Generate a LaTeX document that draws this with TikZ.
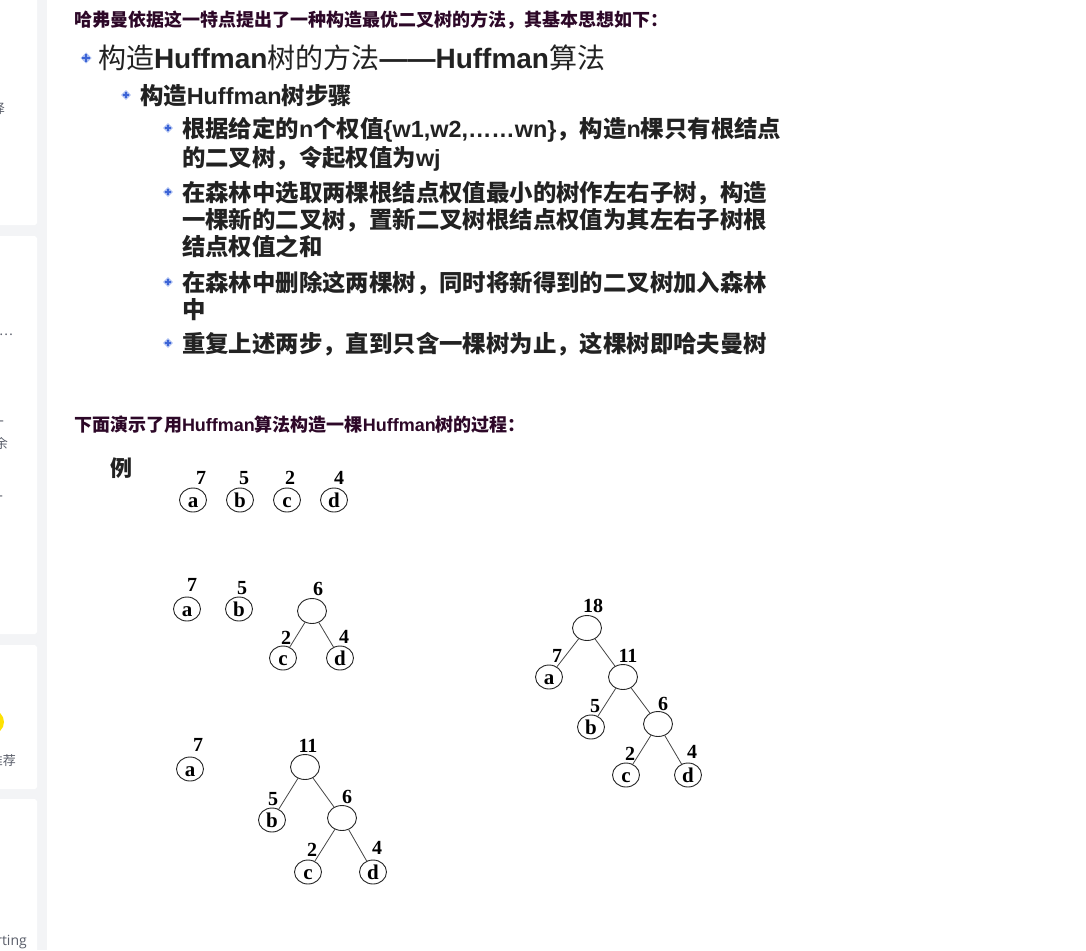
\documentclass[tikz,border=0pt]{standalone}
\usepackage{fontspec}
\usetikzlibrary{shapes.geometric}
\setmainfont{Liberation Serif}
\newfontfamily\cjk{Noto Sans CJK SC}
\newfontfamily\arialf{Liberation Sans}
\newfontfamily\uisans{Open Sans}
\newcommand\lat[1]{{\arialf\bfseries #1}}
\definecolor{headc}{RGB}{45,8,40}
\definecolor{bodyc}{RGB}{34,34,34}
\definecolor{sidegray}{RGB}{243,244,246}
\definecolor{sidetext}{RGB}{90,94,106}
\definecolor{bulfill}{RGB}{168,188,240}
\definecolor{bulline}{RGB}{60,100,214}
\definecolor{edgec}{RGB}{70,70,70}
\newcommand\drawbul[3]{%
  \fill[bulfill] (#1-#3,#2) -- (#1,#2-#3) -- (#1+#3,#2) -- (#1,#2+#3) -- cycle;
  \draw[bulline,line width=1.2pt] (#1-0.7*#3,#2) -- (#1+0.7*#3,#2) (#1,#2-0.7*#3) -- (#1,#2+0.7*#3);}
\begin{document}
\begin{tikzpicture}[x=1pt,y=-1pt,
  txt/.style={anchor=base west,inner sep=0pt,outer sep=0pt},
  head/.style={txt,text=headc,font=\cjk\bfseries\fontsize{18}{20}\selectfont},
  ttl/.style={txt,text=bodyc,font=\cjk\fontsize{28}{30}\selectfont},
  lvl/.style={txt,text=bodyc,font=\cjk\bfseries\fontsize{23.4}{26}\selectfont},
  side/.style={anchor=base east,inner sep=0pt,text=sidetext,font=\cjk\fontsize{13}{15}\selectfont},
  leaf/.style={ellipse,draw=black!85,line width=0.9pt,minimum width=27pt,minimum height=24pt,inner sep=0pt},
  inner/.style={ellipse,draw=black!85,line width=0.9pt,minimum width=29pt,minimum height=25pt,inner sep=0pt},
  ltr/.style={anchor=base,inner sep=0pt,font=\bfseries\fontsize{21}{21}\selectfont},
  wt/.style={inner sep=0pt,font=\bfseries\fontsize{20}{20}\selectfont},
  edge/.style={draw=edgec,line width=0.8pt}
]
\useasboundingbox (0,0) rectangle (1086,950);
\fill[white] (0,0) rectangle (1086,950);
% sidebar
\fill[sidegray] (0,0) rectangle (47,950);
\fill[white] (0,0) -- (37,0) -- (37,223) -- (35,225) -- (0,225) -- cycle;
\fill[white] (0,236) -- (35,236) -- (37,238) -- (37,632) -- (35,634) -- (0,634) -- cycle;
\fill[white] (0,645) -- (35,645) -- (37,647) -- (37,787) -- (35,789) -- (0,789) -- cycle;
\fill[white] (0,799) -- (35,799) -- (37,801) -- (37,950) -- (0,950) -- cycle;
\begin{scope}
\clip (0,0) rectangle (37,950);
\node[side] (s1) at (5,113) {选择};
\node[side] (s2) at (13,335) {数据…};
\node[side] (s3) at (4,426) {一};
\node[side] (s4) at (8,448) {剩余};
\node[side] (s5) at (3,501) {一};
\fill[yellow!85!orange] (-8,722) circle (12);
\node[side] (s6) at (16,765) {推荐};
\node[side,font=\uisans\fontsize{14}{16}\selectfont] (s7) at (27,945) {sorting};
\end{scope}
% headings and text
\node[head] (h1) at (74,26.8) {哈弗曼依据这一特点提出了一种构造最优二叉树的方法，其基本思想如下：};
\drawbul{86}{58}{5.5}
\node[ttl] (t1) at (98,68.6) {构造\lat{Huffman}树的方法\lat{——Huffman}算法};
\drawbul{126}{95}{4.8}
\node[lvl] (t2) at (140,104) {构造\lat{Huffman}树步骤};
\foreach \yy in {128,192,282,343} { \drawbul{168}{\yy}{4.8} }
\node[lvl] (l1) at (182,137) {根据给定的\lat{n}个权值\lat{\{w1,w2,……wn\}}，构造\lat{n}棵只有根结点};
\node[lvl] (l2) at (182,166) {的二叉树，令起权值为\lat{wj}};
\node[lvl] (l3) at (182,201) {在森林中选取两棵根结点权值最小的树作左右子树，构造};
\node[lvl] (l4) at (182,228) {一棵新的二叉树，置新二叉树根结点权值为其左右子树根};
\node[lvl] (l5) at (182,255) {结点权值之和};
\node[lvl] (l6) at (182,291) {在森林中删除这两棵树，同时将新得到的二叉树加入森林};
\node[lvl] (l7) at (182,318) {中};
\node[lvl] (l8) at (182,352) {重复上述两步，直到只含一棵树为止，这棵树即哈夫曼树};
\node[head] (h2) at (74,431.8) {下面演示了用\lat{Huffman}算法构造一棵\lat{Huffman}树的过程：};
\node[txt,text=bodyc,font=\cjk\bfseries\fontsize{22}{24}\selectfont] (ex) at (110,476.4) {例};
% row 1
\node[leaf] (a1) at (193,500) {};
\node[leaf] (b1) at (240,500) {};
\node[leaf] (c1) at (287,500) {};
\node[leaf] (d1) at (334,500) {};
\node[ltr] (la1) at (193,507) {a};
\node[ltr] (lb1) at (240,507) {b};
\node[ltr] (lc1) at (287,507) {c};
\node[ltr] (ld1) at (334,507) {d};
\node[wt] (wa1) at (201,478) {7};
\node[wt] (wb1) at (244,478) {5};
\node[wt] (wc1) at (290,478) {2};
\node[wt] (wd1) at (339,478) {4};
% row 2
\node[leaf] (a2) at (187,609) {};
\node[leaf] (b2) at (239,609) {};
\node[inner] (r2) at (312,611) {};
\node[leaf] (c2) at (283,658) {};
\node[leaf] (d2) at (340,658) {};
\node[ltr] (la2) at (187,616) {a};
\node[ltr] (lb2) at (239,616) {b};
\node[ltr] (lc2) at (283,665) {c};
\node[ltr] (ld2) at (340,665) {d};
\node[wt] (wa2) at (192,585) {7};
\node[wt] (wb2) at (242,588) {5};
\node[wt] (wr2) at (318,589) {6};
\node[wt] (wc2) at (286,638) {2};
\node[wt] (wd2) at (344,637) {4};
\draw[edge] (r2) -- (c2);
\draw[edge] (r2) -- (d2);
% row 3
\node[leaf] (a3) at (190,769) {};
\node[inner] (r3) at (305,767) {};
\node[leaf] (b3) at (272,820) {};
\node[inner] (s3n) at (342,818) {};
\node[leaf] (c3) at (308,872) {};
\node[leaf] (d3) at (373,872) {};
\node[ltr] (la3) at (190,776) {a};
\node[ltr] (lb3) at (272,827) {b};
\node[ltr] (lc3) at (308,879) {c};
\node[ltr] (ld3) at (373,879) {d};
\node[wt] (wa3) at (198,745) {7};
\node[wt] (wr3) at (308,746) {11};
\node[wt] (wb3) at (273,799) {5};
\node[wt] (ws3) at (347,797) {6};
\node[wt] (wc3) at (312,850) {2};
\node[wt] (wd3) at (377,848) {4};
\draw[edge] (r3) -- (b3);
\draw[edge] (r3) -- (s3n);
\draw[edge] (s3n) -- (c3);
\draw[edge] (s3n) -- (d3);
% final tree
\node[inner] (r4) at (587,628) {};
\node[leaf] (a4) at (549,677) {};
\node[inner] (e4) at (623,677) {};
\node[leaf] (b4) at (591,727) {};
\node[inner] (s4n) at (658,724) {};
\node[leaf] (c4) at (626,775) {};
\node[leaf] (d4) at (688,775) {};
\node[ltr] (la4) at (549,684) {a};
\node[ltr] (lb4) at (591,734) {b};
\node[ltr] (lc4) at (626,782) {c};
\node[ltr] (ld4) at (688,782) {d};
\node[wt] (wr4) at (593,606) {18};
\node[wt] (wa4) at (557,656) {7};
\node[wt] (we4) at (628,656) {11};
\node[wt] (wb4) at (595,706) {5};
\node[wt] (ws4) at (663,704) {6};
\node[wt] (wc4) at (630,754) {2};
\node[wt] (wd4) at (692,752) {4};
\draw[edge] (r4) -- (a4);
\draw[edge] (r4) -- (e4);
\draw[edge] (e4) -- (b4);
\draw[edge] (e4) -- (s4n);
\draw[edge] (s4n) -- (c4);
\draw[edge] (s4n) -- (d4);
\end{tikzpicture}
\end{document}
